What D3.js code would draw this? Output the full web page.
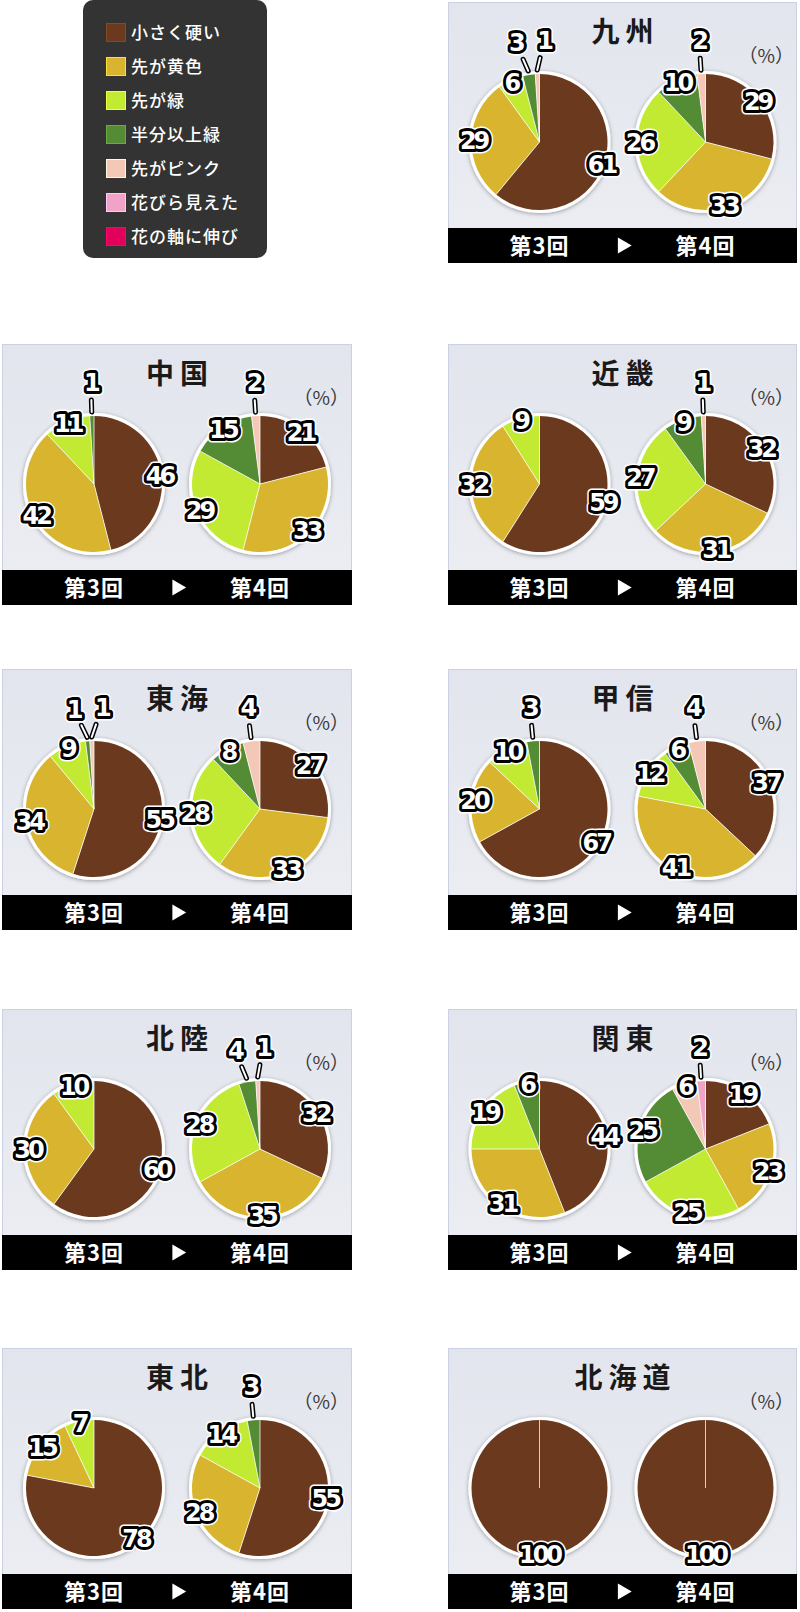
<!DOCTYPE html>
<html>
<head>
<meta charset="utf-8">
<script src="https://cdn.jsdelivr.net/npm/d3@7"></script>
<style>
  body { margin: 0; background: #fff; }
  svg { display: block; }
</style>
</head>
<body>
<script>
// categories (legend order = slice order, clockwise from 12 o'clock)
const categories = ["小さく硬い", "先が黄色", "先が緑", "半分以上緑", "先がピンク", "花びら見えた", "花の軸に伸び"];
const colors = ["#6b3a1e", "#d9b52f", "#c2ea33", "#548b35", "#f4c8b7", "#f1a3c7", "#e1005a"];

const regions = ["九州", "中国", "近畿", "東海", "甲信", "北陸", "関東", "東北", "北海道"];
const rounds = ["第3回", "第4回"];

// percentages per category, one row per region
const round3 = [
  [61, 29, 6, 3, 1, 0, 0],
  [46, 42, 11, 1, 0, 0, 0],
  [59, 32, 9, 0, 0, 0, 0],
  [55, 34, 9, 1, 1, 0, 0],
  [67, 20, 10, 3, 0, 0, 0],
  [60, 30, 10, 0, 0, 0, 0],
  [44, 31, 19, 6, 0, 0, 0],
  [78, 15, 7, 0, 0, 0, 0],
  [100, 0, 0, 0, 0, 0, 0]
];
const round4 = [
  [29, 33, 26, 10, 2, 0, 0],
  [21, 33, 29, 15, 2, 0, 0],
  [32, 31, 27, 9, 1, 0, 0],
  [27, 33, 28, 8, 4, 0, 0],
  [37, 41, 12, 6, 4, 0, 0],
  [32, 35, 28, 4, 1, 0, 0],
  [19, 23, 25, 25, 6, 2, 0],
  [55, 28, 14, 3, 0, 0, 0],
  [100, 0, 0, 0, 0, 0, 0]
];

var width = 800, height = 1612;
var colX = [2, 448];
var colW = [350, 349];
var rowY = [2, 344, 669, 1009, 1348];
var panelH = 261;
var R = 68;          // slice radius
var pieOffset = 83;  // pie centres from panel centre

var svg = d3.select("body").append("svg")
    .attr("width", width)
    .attr("height", height);

var defs = svg.append("defs");
var grad = defs.append("linearGradient")
    .attr("id", "panelBg")
    .attr("x1", 0).attr("y1", 0).attr("x2", 0).attr("y2", 1);
grad.append("stop").attr("offset", "0%").attr("stop-color", "#e3e5ee");
grad.append("stop").attr("offset", "100%").attr("stop-color", "#eceef3");

defs.append("filter")
    .attr("id", "pieShadow")
    .attr("x", "-20%").attr("y", "-20%").attr("width", "140%").attr("height", "140%")
  .append("feDropShadow")
    .attr("dx", 0).attr("dy", 1)
    .attr("stdDeviation", 2)
    .attr("flood-color", "#000")
    .attr("flood-opacity", 0.35);

var color = d3.scaleOrdinal()
    .domain(categories)
    .range(colors);

// ---- legend ----
var legend = svg.append("g");
legend.append("rect")
    .attr("x", 83).attr("y", 0)
    .attr("width", 184).attr("height", 258)
    .attr("rx", 10)
    .attr("fill", "#333333");

var legendY = d3.scalePoint()
    .domain(categories)
    .range([23, 227]);

categories.forEach(c => {
    legend.append("rect")
        .attr("x", 106.5)
        .attr("y", legendY(c) + 0.5)
        .attr("width", 19)
        .attr("height", 18)
        .attr("fill", color(c))
        .attr("stroke", d3.color(color(c)).brighter(0.6))
        .attr("stroke-width", 1);

    legend.append("text")
        .attr("x", 131)
        .attr("y", legendY(c) + 16)
        .attr("font-family", "'Noto Sans CJK JP', sans-serif")
        .attr("font-size", "17px")
        .attr("font-weight", 500)
        .attr("letter-spacing", "1px")
        .attr("fill", "#fff")
        .text(c);
});

// ---- pies ----
var pie = d3.pie()
    .sort(null)
    .value(d => d.value);

var arc = d3.arc()
    .innerRadius(0)
    .outerRadius(R);

function pt(angle, dist) {
    return [Math.sin(angle) * dist, -Math.cos(angle) * dist];
}

function drawPie(g, values) {
    var data = values.map((v, i) => ({ cat: categories[i], value: v })).filter(d => d.value > 0);
    var arcs = pie(data);

    g.append("circle")
        .attr("r", R + 2)
        .attr("fill", "#fff")
        .attr("stroke", "#fff")
        .attr("stroke-width", 2)
        .attr("filter", "url(#pieShadow)");

    g.selectAll("path.slice")
        .data(arcs)
        .enter().append("path")
        .attr("class", "slice")
        .attr("d", arc)
        .attr("fill", d => color(d.data.cat));

    // slice borders
    g.selectAll("line.sep")
        .data(arcs)
        .enter().append("line")
        .attr("x1", 0).attr("y1", 0)
        .attr("x2", d => pt(d.startAngle, R)[0])
        .attr("y2", d => pt(d.startAngle, R)[1])
        .attr("stroke", "#fff")
        .attr("stroke-opacity", 0.75)
        .attr("stroke-width", 1);

    // label angles: small slices go outside with a leader, spread apart
    arcs.forEach(d => {
        d.mid = (d.startAngle + d.endAngle) / 2;
        d.callout = d.data.value <= 4;
        d.labelAngle = d.mid;
    });
    var outs = arcs.filter(d => d.callout);
    var minGap = 16 * Math.PI / 180;
    for (var i = 1; i < outs.length; i++) {
        var a = outs[i - 1], b = outs[i];
        if (b.labelAngle - a.labelAngle < minGap) {
            var m = (a.labelAngle + b.labelAngle) / 2;
            a.labelAngle = m - minGap / 2;
            b.labelAngle = m + minGap / 2;
        }
    }

    arcs.forEach(d => {
        var dist = d.callout ? R + 34 : R * 0.97;
        d.lp = pt(d.labelAngle, dist);
        if (d.callout) {
            var p0 = pt(d.mid, R + 4);
            var dx = d.lp[0] - p0[0], dy = d.lp[1] - p0[1];
            var len = Math.sqrt(dx * dx + dy * dy);
            var t = (len - 18) / len;
            d.leader = [p0, [p0[0] + dx * Math.min(t, 0.6), p0[1] + dy * Math.min(t, 0.6)]];
        }
    });

    var leaders = arcs.filter(d => d.callout);
    [["#000", 5], ["#fff", 2]].forEach(s => {
        g.selectAll(null)
            .data(leaders)
            .enter().append("line")
            .attr("x1", d => d.leader[0][0]).attr("y1", d => d.leader[0][1])
            .attr("x2", d => d.leader[1][0]).attr("y2", d => d.leader[1][1])
            .attr("stroke", s[0])
            .attr("stroke-width", s[1])
            .attr("stroke-linecap", "round");
    });

    [["#fff", 9, "#fff"], ["#000", 6, "#fff"]].forEach(s => {
        g.selectAll(null)
            .data(arcs)
            .enter().append("text")
            .attr("x", d => d.lp[0])
            .attr("y", d => d.lp[1])
            .attr("dy", "0.36em")
            .attr("text-anchor", "middle")
            .attr("font-family", "'DejaVu Sans', sans-serif")
            .attr("font-weight", "bold")
            .attr("font-size", "24px")
            .attr("letter-spacing", "-3px")
            .attr("fill", s[2])
            .attr("stroke", s[0])
            .attr("stroke-width", s[1])
            .attr("stroke-linejoin", "round")
            .attr("paint-order", "stroke")
            .text(d => d.data.value);
    });
}

regions.forEach((name, i) => {
    var slot = i + 1;
    var col = slot % 2, row = Math.floor(slot / 2);
    var x0 = colX[col], y0 = rowY[row], w = colW[col];
    var cx = x0 + w / 2;

    var panel = svg.append("g");

    panel.append("rect")
        .attr("x", x0 + 0.5).attr("y", y0 + 0.5)
        .attr("width", w - 1).attr("height", panelH - 1)
        .attr("fill", "url(#panelBg)")
        .attr("stroke", "#c9d1e2")
        .attr("stroke-width", 1);

    panel.append("text")
        .attr("x", cx + 3)
        .attr("y", y0 + 40)
        .attr("text-anchor", "middle")
        .attr("font-family", "'Noto Sans CJK JP', sans-serif")
        .attr("font-weight", "bold")
        .attr("font-size", "28px")
        .attr("letter-spacing", "6px")
        .attr("fill", "#1a1a1a")
        .text(name);

    panel.append("text")
        .attr("x", x0 + w - 3)
        .attr("y", y0 + 61)
        .attr("text-anchor", "end")
        .attr("font-family", "'Noto Sans CJK JP', sans-serif")
        .attr("font-size", "19px")
        .attr("fill", "#3a3a3a")
        .text("（%）");

    // footer
    panel.append("rect")
        .attr("x", x0).attr("y", y0 + 226)
        .attr("width", w).attr("height", 35)
        .attr("fill", "#000");

    [round3[i], round4[i]].forEach((vals, k) => {
        var px = cx + (k === 0 ? -pieOffset : pieOffset);
        var g = panel.append("g")
            .attr("transform", "translate(" + px + "," + (y0 + 140) + ")");
        drawPie(g, vals);

        panel.append("text")
            .attr("x", px)
            .attr("y", y0 + 252)
            .attr("text-anchor", "middle")
            .attr("font-family", "'Noto Sans CJK JP', sans-serif")
            .attr("font-weight", "bold")
            .attr("font-size", "22px")
            .attr("letter-spacing", "1px")
            .attr("fill", "#fff")
            .text(rounds[k]);
    });

    panel.append("path")
        .attr("d", d3.symbol().type(d3.symbolTriangle).size(110))
        .attr("transform", "translate(" + cx + "," + (y0 + 243.5) + ") rotate(90)")
        .attr("fill", "#fff");
});
</script>
</body>
</html>
